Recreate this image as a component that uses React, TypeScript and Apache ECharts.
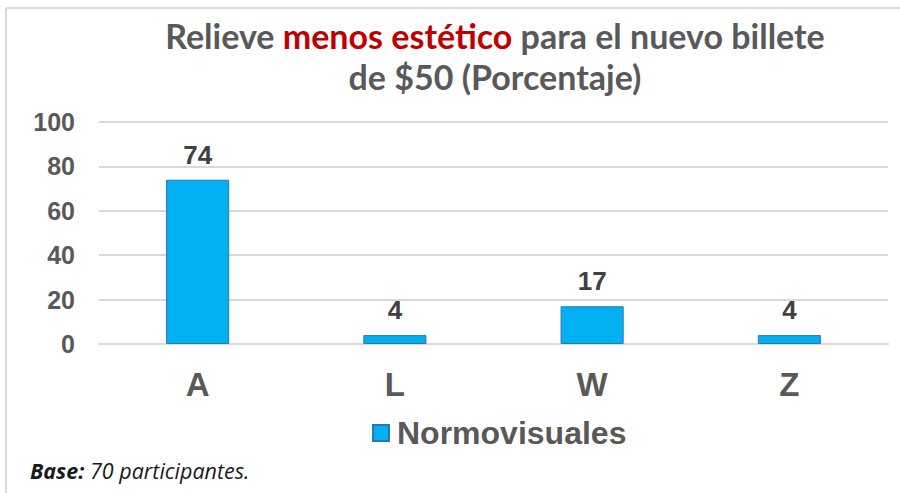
import React, { useEffect, useRef } from "react";
import * as echarts from "echarts";

const categories = ["A", "L", "W", "Z"];
const seriesName = "Normovisuales";
const values = [74, 4, 17, 4];
const yTicks = { min: 0, max: 100, interval: 20 };

export default function App() {
  const ref = useRef<HTMLDivElement>(null);
  useEffect(() => {
    document.body.style.margin = "0";
    const chart = echarts.init(ref.current!, null, { renderer: "svg" });
    const gray = "#595959";
    const arial = "Arial, 'Liberation Sans', sans-serif";
    chart.setOption({
      animation: false,
      backgroundColor: "#fff",
      grid: { left: 99, right: 12, top: 122, bottom: 149 },
      xAxis: {
        type: "category",
        data: categories,
        axisLine: { show: true, lineStyle: { color: "#D9D9D9", width: 2 } },
        axisTick: { show: false },
        axisLabel: {
          color: gray,
          fontFamily: arial,
          fontWeight: "bold",
          fontSize: 33,
          margin: 24,
        },
      },
      yAxis: {
        type: "value",
        min: yTicks.min,
        max: yTicks.max,
        interval: yTicks.interval,
        axisLine: { show: false },
        axisTick: { show: false },
        splitLine: { lineStyle: { color: "#D9D9D9", width: 2 } },
        axisLabel: {
          color: gray,
          fontFamily: arial,
          fontWeight: "bold",
          fontSize: 25,
          margin: 24,
        },
      },
      legend: {
        data: [{ name: seriesName, icon: "rect" }],
        left: 367,
        top: 412,
        itemWidth: 16,
        itemHeight: 16,
        textStyle: {
          color: gray,
          fontFamily: arial,
          fontWeight: "bold",
          fontSize: 32,
          padding: [0, 0, 0, 3],
        },
      },
      series: [
        {
          type: "bar",
          name: seriesName,
          data: values,
          barWidth: "32%",
          itemStyle: { color: "#00B0F0", borderColor: "#2E75B6", borderWidth: 1 },
          label: {
            show: true,
            position: "top",
            distance: 12,
            color: "#404040",
            fontFamily: arial,
            fontWeight: "bold",
            fontSize: 26,
          },
        },
      ],
      graphic: [
        { type: "line", shape: { x1: 6, y1: 8, x2: 900, y2: 8 }, style: { stroke: "#D9D9D9", lineWidth: 2 } },
        { type: "line", shape: { x1: 6, y1: 8, x2: 6, y2: 493 }, style: { stroke: "#D9D9D9", lineWidth: 2 } },
        {
          type: "text",
          x: 495,
          y: 15,
          style: {
            text: "{a|Relieve }{r|menos estético}{a| para el nuevo billete}\n{a|de $50 (Porcentaje)}",
            align: "center",
            verticalAlign: "top",
            lineHeight: 41,
            rich: {
              a: { fontFamily: "Lato, sans-serif", fontWeight: "bold", fontSize: 34, fill: gray, lineHeight: 41 },
              r: { fontFamily: "Lato, sans-serif", fontWeight: "bold", fontSize: 34, fill: "#C00000", lineHeight: 41 },
            },
          },
        },
        {
          type: "text",
          x: 30,
          y: 470,
          style: {
            text: "{b|Base:}{i| 70 participantes.}",
            verticalAlign: "middle",
            rich: {
              b: { fontFamily: "'Open Sans', sans-serif", fontStyle: "italic", fontWeight: "bold", fontSize: 21.5, fill: "#1a1a1a" },
              i: { fontFamily: "'Open Sans', sans-serif", fontStyle: "italic", fontSize: 21.5, fill: "#1a1a1a" },
            },
          },
        },
      ],
    });
    return () => chart.dispose();
  }, []);
  return <div ref={ref} style={{ width: 900, height: 493, position: "absolute", left: 0, top: 0 }} />;
}
